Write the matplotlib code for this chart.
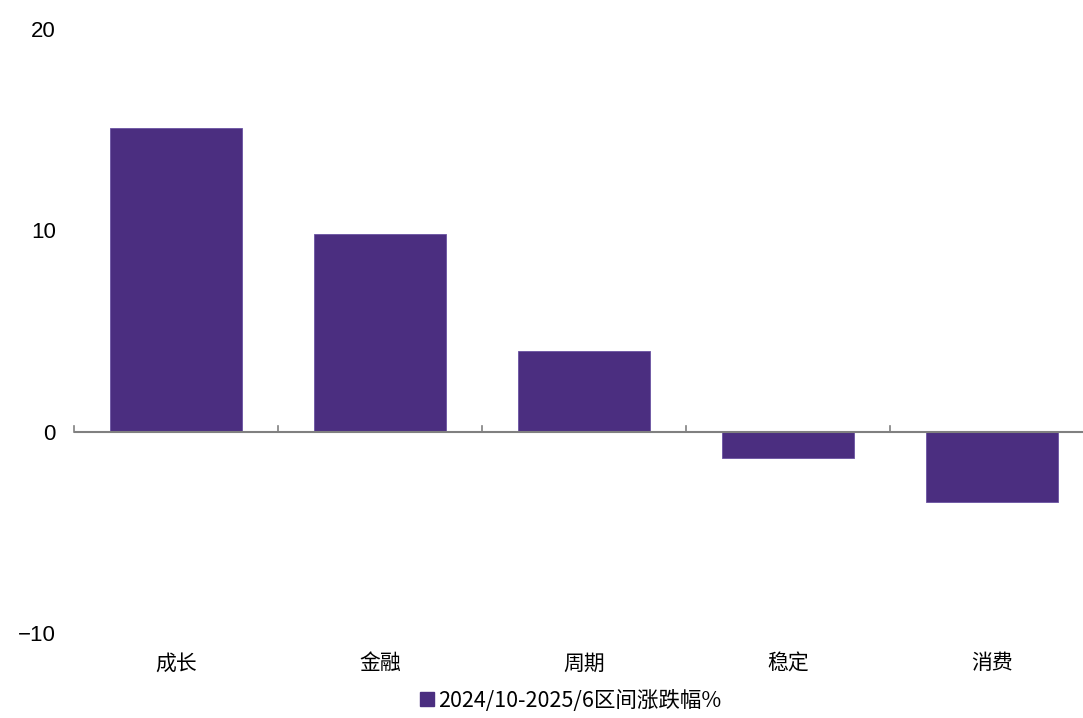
import matplotlib
matplotlib.use("Agg")
import matplotlib.pyplot as plt
import numpy as np
from matplotlib.patches import Patch

categories = ["成长", "金融", "周期", "稳定", "消费"]
values = [15.1, 9.8, 4.0, -1.3, -3.5]
series_name = "2024/10-2025/6区间涨跌幅%"
yticks = [-10, 0, 10, 20]

bar_color = "#4B2E80"
axis_grey = "#808080"

plt.rcParams["font.family"] = ["Noto Sans CJK SC", "DejaVu Sans"]

fig = plt.figure(figsize=(10.83, 7.18), dpi=100)
ax = fig.add_axes([0.0683, 0.1184, 0.9418, 0.8412])

x = np.arange(len(categories))
ax.bar(x, values, width=0.65, color=bar_color, edgecolor="#6A52A2", linewidth=0.6, zorder=2)

ax.set_xlim(-0.5, len(categories) - 0.5)
ax.set_ylim(-10, 20)
ax.set_yticks(yticks)
ax.set_yticklabels([str(t).replace("-", "\u2212") for t in yticks],
                   family="Liberation Sans", fontsize=16)
ax.tick_params(axis="y", length=0, pad=13)

for side in ["left", "right", "top", "bottom"]:
    ax.spines[side].set_visible(False)

# zero line with small upward ticks between categories
ax.axhline(0, color=axis_grey, linewidth=1.5, zorder=3)
for b in np.arange(len(categories)) - 0.5:
    ax.plot([b, b], [0, 0.3], color=axis_grey, linewidth=1.2, zorder=3, clip_on=False)

ax.set_xticks(x)
ax.set_xticklabels(categories, fontsize=15)
ax.tick_params(axis="x", length=0, pad=14)

handle = Patch(facecolor=bar_color, edgecolor=bar_color)
fig.legend([handle], [series_name], loc="lower center", bbox_to_anchor=(0.527, -0.018),
           frameon=False, fontsize=15.5, handlelength=0.65, handleheight=0.65, handletextpad=0.2)

fig.savefig("out.png", dpi=100)
